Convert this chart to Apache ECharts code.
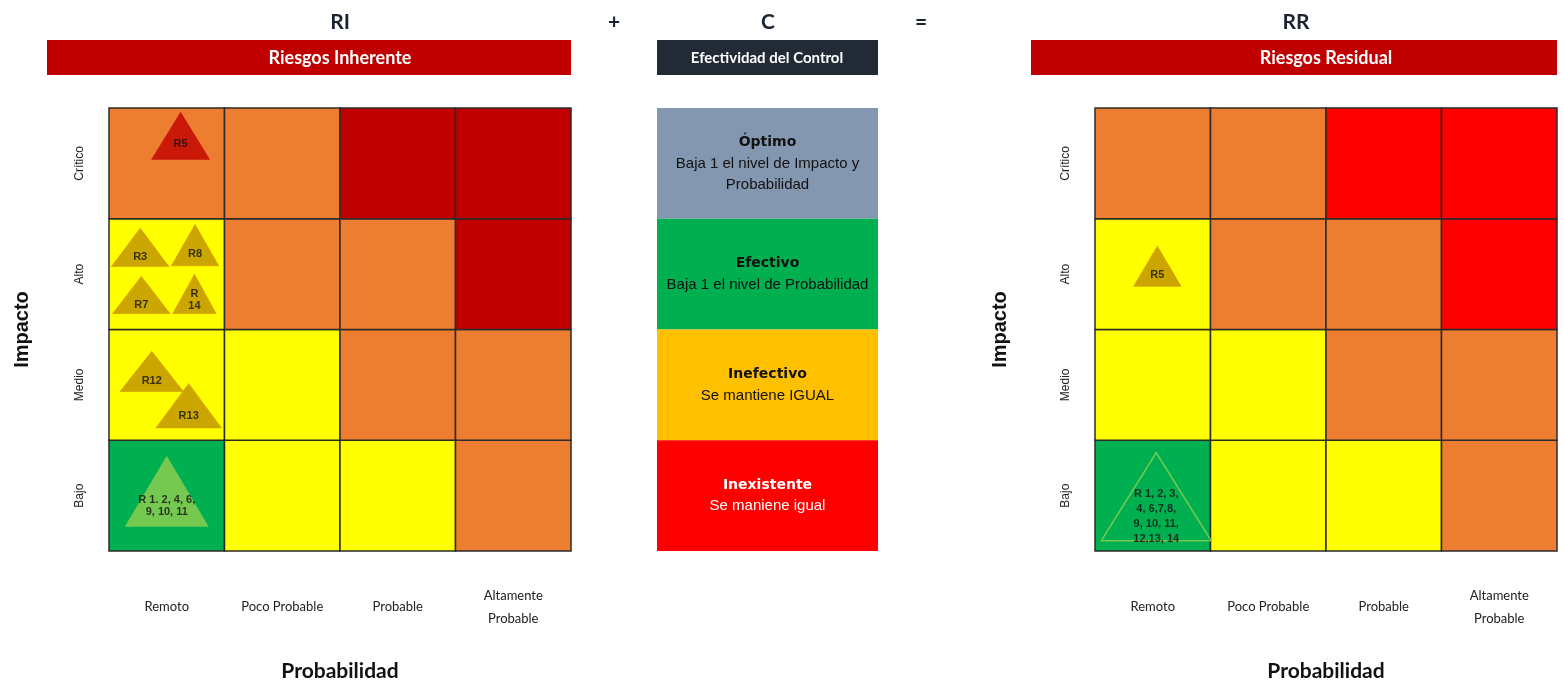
<!DOCTYPE html>
<html>
<head>
<meta charset="utf-8">
<script src="https://cdn.jsdelivr.net/npm/echarts@6/dist/echarts.min.js"></script>
<style>
  html, body { margin: 0; padding: 0; background: #ffffff; }
  #chart { width: 1564px; height: 681px; }
</style>
</head>
<body>
<div id="chart"></div>
<script>
// Axis categories
const probabilidad = ['Remoto', 'Poco Probable', 'Probable', 'Altamente\nProbable'];
const impacto = ['Bajo', 'Medio', 'Alto', 'Crítico'];

// Risk level of every cell, rows from Bajo (0) up to Crítico (3), columns Remoto..Altamente Probable
const nivelInherente = [
  ['bajo',  'medio', 'medio', 'alto'],
  ['medio', 'medio', 'alto',  'alto'],
  ['medio', 'alto',  'alto',  'extremo'],
  ['alto',  'alto',  'extremo', 'extremo']
];
const nivelResidual = [
  ['bajo',  'medio', 'medio', 'alto'],
  ['medio', 'medio', 'alto',  'alto'],
  ['medio', 'alto',  'alto',  'extremo'],
  ['alto',  'alto',  'extremo', 'extremo']
];

// Risks placed in each matrix: position in (probabilidad, impacto) units
const riesgosInherentes = [
  { nombre: 'R5',  prob: 0.62, imp: 3.75 },
  { nombre: 'R3',  prob: 0.27, imp: 2.74 },
  { nombre: 'R8',  prob: 0.745, imp: 2.76 },
  { nombre: 'R7',  prob: 0.28, imp: 2.31 },
  { nombre: 'R\n14', prob: 0.74, imp: 2.32 },
  { nombre: 'R12', prob: 0.37, imp: 1.62 },
  { nombre: 'R13', prob: 0.69, imp: 1.31 },
  { nombre: 'R 1. 2, 4, 6,\n9, 10, 11', prob: 0.50, imp: 0.54 }
];
const riesgosResiduales = [
  { nombre: 'R5', prob: 0.54, imp: 2.57 },
  { nombre: 'R 1, 2, 3,\n4, 6,7,8,\n9, 10, 11,\n12,13, 14', prob: 0.53, imp: 0.49 }
];

// Control effectiveness panel, top to bottom
const controles = [
  { titulo: 'Óptimo',      texto: 'Baja 1 el nivel de Impacto y\nProbabilidad' },
  { titulo: 'Efectivo',    texto: 'Baja 1 el nivel de Probabilidad' },
  { titulo: 'Inefectivo',  texto: 'Se mantiene IGUAL' },
  { titulo: 'Inexistente', texto: 'Se maniene igual' }
];

// ---- styling ----
const coloresInherente = { bajo: '#00b050', medio: '#ffff00', alto: '#ed7d31', extremo: '#c00000' };
const coloresResidual  = { bajo: '#00b050', medio: '#ffff00', alto: '#ed7d31', extremo: '#ff0000' };
const coloresControl = [
  { fondo: '#8497b0', texto: '#111111' },
  { fondo: '#00b050', texto: '#111111' },
  { fondo: '#ffc000', texto: '#111111' },
  { fondo: '#ff0000', texto: '#ffffff' }
];
const oro = { color: '#bf9000', borderColor: '#d99c00', borderWidth: 1 };
const estiloTriangulo = {
  inherente: [
    { size: [59, 48], item: { color: '#c00000' }, dy: 8 },
    { size: [57, 38], item: oro, dy: 9 },
    { size: [47, 41], item: oro, dy: 9 },
    { size: [57, 37], item: oro, dy: 10 },
    { size: [43, 39], item: oro, dy: 6 },
    { size: [63, 40], item: oro, dy: 9 },
    { size: [65, 44], item: oro, dy: 10 },
    { size: [84, 71], item: { color: '#92d050' }, dy: 15 }
  ],
  residual: [
    { size: [47, 40], item: oro, dy: 9 },
    { size: [110, 88], item: { color: 'rgba(0,0,0,0)', borderColor: '#92d050', borderWidth: 1.5 }, dy: 20 }
  ]
};

const fontLabel = 'Lato, "Open Sans", sans-serif';

function celdas(gridIndex, niveles, colores) {
  const data = [];
  niveles.forEach((fila, r) => fila.forEach((nivel, c) => data.push([c, r])));
  return {
    type: 'custom',
    xAxisIndex: gridIndex,
    yAxisIndex: gridIndex,
    silent: true,
    z: 1,
    data: data,
    renderItem: function (params, api) {
      const c = api.value(0), r = api.value(1);
      const a = api.coord([c, r + 1]);
      const b = api.coord([c + 1, r]);
      return {
        type: 'rect',
        shape: { x: a[0], y: a[1], width: b[0] - a[0], height: b[1] - a[1] },
        style: { fill: colores[niveles[r][c]], stroke: '#2b2b2b', lineWidth: 1.5 }
      };
    }
  };
}

function triangulos(gridIndex, riesgos, estilos) {
  return {
    type: 'scatter',
    xAxisIndex: gridIndex,
    yAxisIndex: gridIndex,
    symbol: 'triangle',
    z: 5,
    silent: true,
    data: riesgos.map((r, i) => ({
      value: [r.prob, r.imp],
      symbolSize: estilos[i].size,
      itemStyle: estilos[i].item,
      label: {
        show: true,
        position: 'inside',
        offset: [0, estilos[i].dy],
        formatter: r.nombre,
        color: '#111111',
        fontFamily: '"Liberation Sans Narrow", "Liberation Sans", sans-serif',
        fontWeight: 'bold',
        fontSize: 11,
        lineHeight: gridIndex === 1 ? 15 : 12
      }
    }))
  };
}

function ejeX(gridIndex) {
  return {
    gridIndex: gridIndex,
    type: 'value', min: 0, max: 4, interval: 0.5,
    axisLine: { show: false }, axisTick: { show: false }, splitLine: { show: false },
    axisLabel: {
      margin: 56,
      verticalAlign: 'middle',
      color: '#222222',
      fontFamily: fontLabel,
      fontSize: 13,
      lineHeight: 23,
      formatter: v => (v % 1 === 0.5 ? probabilidad[Math.floor(v)] : '')
    },
    name: 'Probabilidad',
    nameLocation: 'middle',
    nameGap: 110,
    nameTextStyle: { color: '#111111', fontFamily: fontLabel, fontWeight: 'bold', fontSize: 21 }
  };
}

function ejeY(gridIndex, gap) {
  return {
    gridIndex: gridIndex,
    type: 'value', min: 0, max: 4, interval: 0.5,
    axisLine: { show: false }, axisTick: { show: false }, splitLine: { show: false },
    axisLabel: {
      margin: 23,
      rotate: 90,
      color: '#222222',
      fontFamily: '"Liberation Sans", Arial, sans-serif',
      fontSize: 12,
      formatter: v => (v % 1 === 0.5 ? impacto[Math.floor(v)] : '')
    },
    name: 'Impacto',
    nameLocation: 'middle',
    nameGap: gap,
    nameRotate: 90,
    nameTextStyle: { color: '#111111', fontFamily: '"Liberation Sans", Arial, sans-serif', fontWeight: 'bold', fontSize: 20 }
  };
}

const panelControl = {
  type: 'custom',
  xAxisIndex: 2,
  yAxisIndex: 2,
  silent: true,
  data: controles.map((c, i) => [0, controles.length - 1 - i]),
  renderItem: function (params, api) {
    const r = api.value(1);
    const i = params.dataIndex;
    const a = api.coord([0, r + 1]);
    const b = api.coord([1, r]);
    const col = coloresControl[i];
    return {
      type: 'rect',
      shape: { x: a[0], y: a[1], width: b[0] - a[0], height: b[1] - a[1] },
      style: { fill: col.fondo },
      textContent: {
        style: {
          text: '{t|' + controles[i].titulo + '}\n{b|' + controles[i].texto.split('\n').join('}\n{b|') + '}',
          fill: col.texto,
          align: 'center',
          verticalAlign: 'middle',
          rich: {
            t: { fontFamily: '"DejaVu Sans", sans-serif', fontWeight: 'bold', fontSize: 14, lineHeight: 21, fill: col.texto },
            b: { fontFamily: '"Liberation Sans", sans-serif', fontSize: 15, lineHeight: 21, fill: col.texto }
          }
        }
      },
      textConfig: { position: 'inside' }
    };
  }
};

const chart = echarts.init(document.getElementById('chart'), null, { renderer: 'canvas' });

const tituloColor = '#1b2431';

chart.setOption({
  backgroundColor: '#ffffff',
  animation: false,
  grid: [
    { left: 109, top: 108, width: 462, height: 443, outerBoundsMode: 'none', containLabel: false },
    { left: 1095, top: 108, width: 462, height: 443, outerBoundsMode: 'none', containLabel: false },
    { left: 657, top: 108, width: 221, height: 443, outerBoundsMode: 'none', containLabel: false }
  ],
  xAxis: [
    ejeX(0), ejeX(1),
    { gridIndex: 2, type: 'value', min: 0, max: 1, show: false }
  ],
  yAxis: [
    ejeY(0, 77), ejeY(1, 85),
    { gridIndex: 2, type: 'value', min: 0, max: 4, show: false }
  ],
  graphic: [
    { type: 'text', x: 340, y: 22, style: { text: 'RI', fill: tituloColor, font: 'bold 21px Lato, sans-serif', align: 'center', verticalAlign: 'middle' } },
    { type: 'text', x: 614, y: 22, style: { text: '+', fill: tituloColor, font: 'bold 21px Lato, sans-serif', align: 'center', verticalAlign: 'middle' } },
    { type: 'text', x: 768, y: 22, style: { text: 'C', fill: tituloColor, font: 'bold 21px Lato, sans-serif', align: 'center', verticalAlign: 'middle' } },
    { type: 'text', x: 921, y: 22, style: { text: '=', fill: tituloColor, font: 'bold 21px Lato, sans-serif', align: 'center', verticalAlign: 'middle' } },
    { type: 'text', x: 1296, y: 22, style: { text: 'RR', fill: tituloColor, font: 'bold 21px Lato, sans-serif', align: 'center', verticalAlign: 'middle' } },
    { type: 'rect', shape: { x: 47, y: 40, width: 524, height: 35 }, style: { fill: '#c00000' } },
    { type: 'text', x: 340, y: 58, style: { text: 'Riesgos Inherente', fill: '#ffffff', font: 'bold 18px Lato, sans-serif', align: 'center', verticalAlign: 'middle' } },
    { type: 'rect', shape: { x: 657, y: 40, width: 221, height: 35 }, style: { fill: '#222a35' } },
    { type: 'text', x: 767, y: 58, style: { text: 'Efectividad del Control', fill: '#ffffff', font: 'bold 15px Lato, sans-serif', align: 'center', verticalAlign: 'middle' } },
    { type: 'rect', shape: { x: 1031, y: 40, width: 526, height: 35 }, style: { fill: '#c00000' } },
    { type: 'text', x: 1326, y: 58, style: { text: 'Riesgos Residual', fill: '#ffffff', font: 'bold 18px Lato, sans-serif', align: 'center', verticalAlign: 'middle' } }
  ],
  series: [
    celdas(0, nivelInherente, coloresInherente),
    celdas(1, nivelResidual, coloresResidual),
    triangulos(0, riesgosInherentes, estiloTriangulo.inherente),
    triangulos(1, riesgosResiduales, estiloTriangulo.residual),
    panelControl
  ]
});
</script>
</body>
</html>
